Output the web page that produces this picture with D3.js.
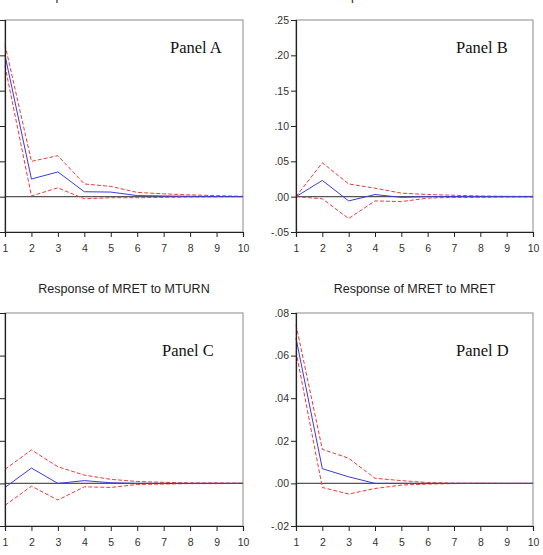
<!DOCTYPE html>
<html><head><meta charset="utf-8">
<script src="https://cdn.jsdelivr.net/npm/d3@7"></script>
<style>body{margin:0;background:#fff}svg{display:block}</style>
</head><body>
<svg id="c" width="543" height="555"></svg>
<script>
const periods = [1,2,3,4,5,6,7,8,9,10];
const titles = ["Response of MTURN to MTURN","Response of MTURN to MRET","Response of MRET to MTURN","Response of MRET to MRET"];
const panelNames = ["Panel A","Panel B","Panel C","Panel D"];
const topTicks = [-0.05,0,0.05,0.10,0.15,0.20,0.25];
const bottomTicks = [-0.02,0,0.02,0.04,0.06,0.08];

const aResp  = [0.200, 0.025, 0.035, 0.007, 0.0065, 0.0015, 0.001, 0.0005, 0.0002, 0];
const aUpper = [0.215, 0.050, 0.058, 0.018, 0.0145, 0.006, 0.004, 0.0025, 0.0015, 0.0005];
const aLower = [0.185, 0.001, 0.0125, -0.003, -0.0015, -0.0015, -0.001, -0.0005, -0.0003, 0];

const bResp  = [0, 0.023, -0.006, 0.003, -0.001, 0, 0, 0, 0, 0];
const bUpper = [0, 0.048, 0.018, 0.012, 0.005, 0.003, 0.002, 0.001, 0.0005, 0.0005];
const bLower = [0, -0.003, -0.031, -0.006, -0.007, -0.002, -0.001, -0.001, -0.0005, -0.0005];

const cResp  = [-0.0019, 0.0072, 0, 0.0013, 0.0003, 0, 0, 0, 0, 0];
const cUpper = [0.0066, 0.0157, 0.0078, 0.0039, 0.0019, 0.0009, 0.0005, 0.0002, 0.0002, 0.0001];
const cLower = [-0.0103, -0.0013, -0.0078, -0.0016, -0.0019, -0.0005, -0.0003, -0.0001, -0.0001, 0];

const dResp  = [0.0682, 0.0069, 0.0031, 0, 0, 0, 0, 0, 0, 0];
const dUpper = [0.0745, 0.016, 0.0118, 0.0024, 0.0013, 0.0004, 0.0001, 0.0001, 0, 0];
const dLower = [0.062, -0.0019, -0.005, -0.0024, -0.0008, -0.0003, -0.0001, 0, 0, 0];

const svg = d3.select("#c");
const fmt = v => { const s = d3.format(".2f")(Math.abs(v)).replace(/^0/, ""); return (v < -1e-9 ? "-" : "") + s; };

// showLabels: the left-column value labels fall outside the picture in the reference
const panels = [
  {x0:5,   x1:243, y0:20,  y1:232, ticks:topTicks,    resp:aResp, up:aUpper, lo:aLower, px:170, py:52.5, showLabels:false},
  {x0:296, x1:533, y0:20,  y1:232, ticks:topTicks,    resp:bResp, up:bUpper, lo:bLower, px:456, py:52.5, showLabels:true},
  {x0:5,   x1:243, y0:313, y1:526, ticks:bottomTicks, resp:cResp, up:cUpper, lo:cLower, px:162, py:356, showLabels:false},
  {x0:296, x1:533, y0:313, y1:526, ticks:bottomTicks, resp:dResp, up:dUpper, lo:dLower, px:456, py:356, showLabels:true}
];

panels.forEach((p, i) => {
  const g = svg.append("g");
  const x = d3.scaleLinear().domain([1,10]).range([p.x0, p.x1]);
  const y = d3.scaleLinear().domain(d3.extent(p.ticks)).range([p.y1, p.y0]);

  g.append("rect").attr("x", p.x0).attr("y", p.y0).attr("width", p.x1-p.x0).attr("height", p.y1-p.y0)
    .attr("fill", "none").attr("stroke", "#8a8a8a").attr("stroke-width", 1);

  g.append("line").attr("x1", p.x0).attr("x2", p.x1).attr("y1", y(0)).attr("y2", y(0))
    .attr("stroke", "#555").attr("stroke-width", 1.3);

  const line = d3.line().x((d,j) => x(periods[j])).y(d => y(d));
  [p.up, p.lo].forEach(arr => {
    g.append("path").attr("d", line(arr)).attr("fill", "none")
      .attr("stroke", "#ee3a3a").attr("stroke-width", 1).attr("stroke-dasharray", "4,2");
  });
  g.append("path").attr("d", line(p.resp)).attr("fill", "none")
    .attr("stroke", "#3a3ae0").attr("stroke-width", 1);

  const yAxis = d3.axisLeft(y).tickValues(p.ticks).tickFormat(p.showLabels ? fmt : () => "")
    .tickSizeOuter(0).tickSize(5).tickPadding(2);
  const ya = g.append("g").attr("transform", `translate(${p.x0},0)`).call(yAxis);
  const xAxis = d3.axisBottom(x).tickValues(periods).tickFormat(d3.format("d")).tickSizeOuter(0).tickSize(5).tickPadding(8);
  const xa = g.append("g").attr("transform", `translate(0,${p.y1})`).call(xAxis);
  [ya, xa].forEach(a => {
    a.select(".domain").attr("stroke", "#222").attr("stroke-width", 1.2);
    a.selectAll(".tick line").attr("stroke", "#222");
    a.selectAll("text").attr("font-family", "Arial, 'Liberation Sans', sans-serif").attr("font-size", "10.5px").attr("fill", "#333");
  });
  if (!p.showLabels) ya.selectAll("text").remove();

  g.append("text").attr("x", (p.x0+p.x1)/2).attr("y", p.y0 - 20.5).attr("text-anchor", "middle")
    .attr("font-family", "Arial, 'Liberation Sans', sans-serif").attr("font-size", "12.5px").attr("fill", "#222")
    .text(titles[i]);

  g.append("text").attr("x", p.px).attr("y", p.py)
    .attr("font-family", "'Times New Roman', 'Liberation Serif', serif").attr("font-size", "16.5px").attr("fill", "#111")
    .text(panelNames[i]);
});
</script>
</body></html>
